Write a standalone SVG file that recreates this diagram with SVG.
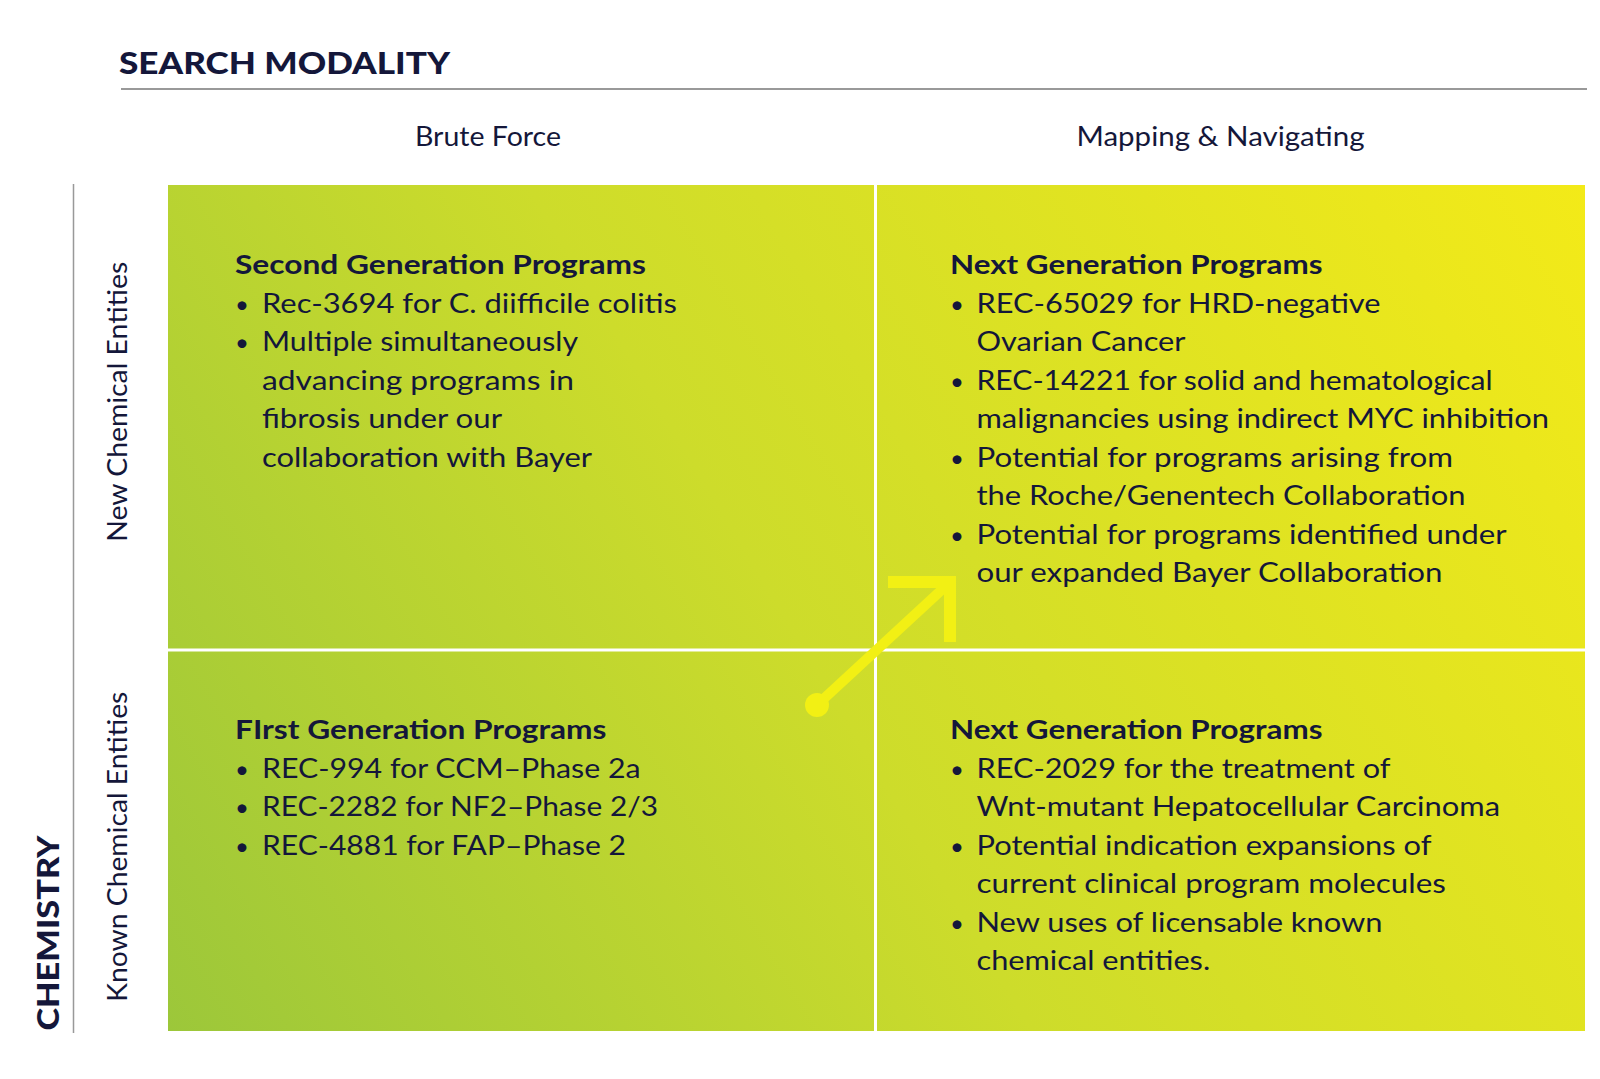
<svg xmlns="http://www.w3.org/2000/svg" width="1600" height="1079" viewBox="0 0 1600 1079">
<defs>
<linearGradient id="grad" gradientUnits="userSpaceOnUse" x1="168" y1="1031" x2="1585" y2="185">
<stop offset="0" stop-color="#9cc73a"/>
<stop offset="0.45" stop-color="#cddc2b"/>
<stop offset="1" stop-color="#f3ea18"/>
</linearGradient>
<style>
text{fill:#14173a;font-family:Lato,"Liberation Sans",sans-serif}
.title{font-size:31px;font-weight:900}
.axis{font-size:26px;font-weight:400}
.head{font-size:26px;font-weight:700}
.body{font-size:26px;font-weight:400}
.bul{font-size:24px;font-weight:400}
.div{stroke:#ffffff;stroke-width:3}
.arrow{stroke:#f2f014;fill:none}
</style>
</defs>
<rect width="1600" height="1079" fill="#ffffff"/>

<g id="axes">
<text class="title" x="119" y="73.5" textLength="331" lengthAdjust="spacingAndGlyphs">SEARCH MODALITY</text>
<line x1="121" y1="89" x2="1587" y2="89" stroke="#777777" stroke-width="1.5"/>
<text class="axis" x="415" y="146" textLength="146" lengthAdjust="spacingAndGlyphs">Brute Force</text>
<text class="axis" x="1076.5" y="146" textLength="288" lengthAdjust="spacingAndGlyphs">Mapping &amp; Navigating</text>
<line x1="73.5" y1="184" x2="73.5" y2="1033" stroke="#999999" stroke-width="1.5"/>
<text class="title" transform="translate(59,1030.5) rotate(-90)" x="0" y="0" textLength="195" lengthAdjust="spacingAndGlyphs">CHEMISTRY</text>
<text class="axis" transform="translate(127,541.7) rotate(-90)" x="0" y="0" textLength="280" lengthAdjust="spacingAndGlyphs">New Chemical Entities</text>
<text class="axis" transform="translate(127,1001.7) rotate(-90)" x="0" y="0" textLength="310" lengthAdjust="spacingAndGlyphs">Known Chemical Entities</text>
</g>

<g id="grid">
<rect x="168" y="185" width="1417" height="846" fill="url(#grad)"/>
<line class="div" x1="875.5" y1="185" x2="875.5" y2="1031"/>
<line class="div" x1="168" y1="650" x2="1585" y2="650"/>
</g>

<g id="connectors">
<line class="arrow" x1="817" y1="705" x2="948" y2="584" stroke-width="10"/>
<circle cx="817" cy="705" r="12" fill="#f2f014"/>
<polyline class="arrow" points="888,582 950,582 950,642" stroke-width="12" stroke-linejoin="miter"/>
</g>

<g id="node-second-gen" transform="translate(0,1)">
<text class="head" x="235" y="273" textLength="411" lengthAdjust="spacingAndGlyphs">Second Generation Programs</text>
<text class="bul" x="235" y="311.5">•</text>
<text class="body" x="262" y="311.5" textLength="415" lengthAdjust="spacingAndGlyphs">Rec-3694 for C. diifficile colitis</text>
<text class="bul" x="235" y="350">•</text>
<text class="body" x="262" y="350" textLength="316" lengthAdjust="spacingAndGlyphs">Multiple simultaneously</text>
<text class="body" x="262" y="388.6" textLength="312" lengthAdjust="spacingAndGlyphs">advancing programs in</text>
<text class="body" x="262" y="427" textLength="240" lengthAdjust="spacingAndGlyphs">fibrosis under our</text>
<text class="body" x="262" y="465.5" textLength="330" lengthAdjust="spacingAndGlyphs">collaboration with Bayer</text>
</g>

<g id="node-next-gen-new" transform="translate(0,1)">
<text class="head" x="950" y="273" textLength="372.5" lengthAdjust="spacingAndGlyphs">Next Generation Programs</text>
<text class="bul" x="950" y="311.5">•</text>
<text class="body" x="976.5" y="311.5" textLength="404" lengthAdjust="spacingAndGlyphs">REC-65029 for HRD-negative</text>
<text class="body" x="976.5" y="350" textLength="209" lengthAdjust="spacingAndGlyphs">Ovarian Cancer</text>
<text class="bul" x="950" y="388.6">•</text>
<text class="body" x="976.5" y="388.6" textLength="516" lengthAdjust="spacingAndGlyphs">REC-14221 for solid and hematological</text>
<text class="body" x="976.5" y="427" textLength="572.5" lengthAdjust="spacingAndGlyphs">malignancies using indirect MYC inhibition</text>
<text class="bul" x="950" y="465.5">•</text>
<text class="body" x="976.5" y="465.5" textLength="476.5" lengthAdjust="spacingAndGlyphs">Potential for programs arising from</text>
<text class="body" x="976.5" y="504" textLength="489" lengthAdjust="spacingAndGlyphs">the Roche/Genentech Collaboration</text>
<text class="bul" x="950" y="542.8">•</text>
<text class="body" x="976.5" y="542.8" textLength="530" lengthAdjust="spacingAndGlyphs">Potential for programs identified under</text>
<text class="body" x="976.5" y="580.6" textLength="466" lengthAdjust="spacingAndGlyphs">our expanded Bayer Collaboration</text>
</g>

<g id="node-first-gen" transform="translate(0,1)">
<text class="head" x="235" y="738" textLength="371.5" lengthAdjust="spacingAndGlyphs">FIrst Generation Programs</text>
<text class="bul" x="235" y="776.5">•</text>
<text class="body" x="262" y="776.5" textLength="378.6" lengthAdjust="spacingAndGlyphs">REC-994 for CCM–Phase 2a</text>
<text class="bul" x="235" y="815.3">•</text>
<text class="body" x="262" y="815.3" textLength="396" lengthAdjust="spacingAndGlyphs">REC-2282 for NF2–Phase 2/3</text>
<text class="bul" x="235" y="854">•</text>
<text class="body" x="262" y="854" textLength="364" lengthAdjust="spacingAndGlyphs">REC-4881 for FAP–Phase 2</text>
</g>

<g id="node-next-gen-known" transform="translate(0,1)">
<text class="head" x="950" y="738" textLength="372.5" lengthAdjust="spacingAndGlyphs">Next Generation Programs</text>
<text class="bul" x="950" y="776.5">•</text>
<text class="body" x="976.5" y="776.5" textLength="414" lengthAdjust="spacingAndGlyphs">REC-2029 for the treatment of</text>
<text class="body" x="976.5" y="815.3" textLength="523.5" lengthAdjust="spacingAndGlyphs">Wnt-mutant Hepatocellular Carcinoma</text>
<text class="bul" x="950" y="854">•</text>
<text class="body" x="976.5" y="854" textLength="455" lengthAdjust="spacingAndGlyphs">Potential indication expansions of</text>
<text class="body" x="976.5" y="891.8" textLength="469.4" lengthAdjust="spacingAndGlyphs">current clinical program molecules</text>
<text class="bul" x="950" y="930.6">•</text>
<text class="body" x="976.5" y="930.6" textLength="406" lengthAdjust="spacingAndGlyphs">New uses of licensable known</text>
<text class="body" x="976.5" y="969.4" textLength="233.7" lengthAdjust="spacingAndGlyphs">chemical entities.</text>
</g>
</svg>
